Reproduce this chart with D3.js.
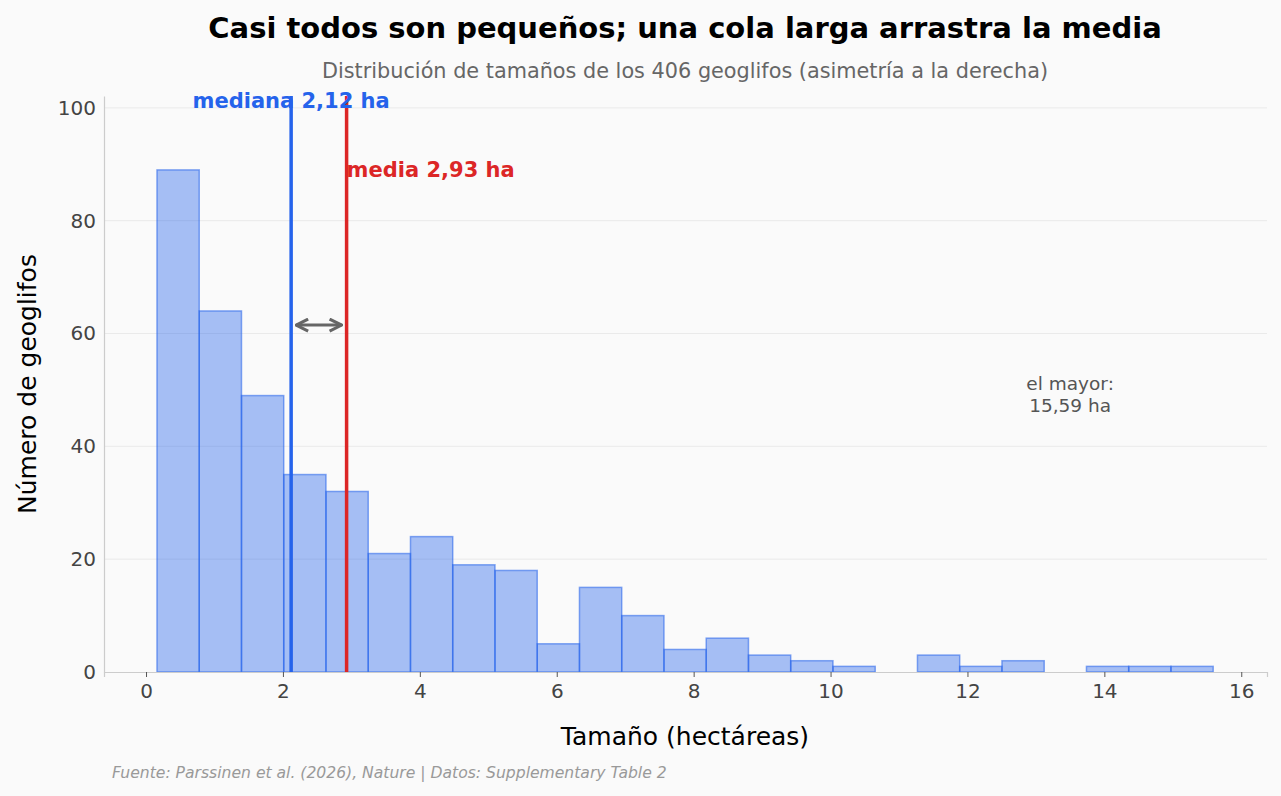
<!DOCTYPE html>
<html>
<head>
<meta charset="utf-8">
<script src="https://cdn.jsdelivr.net/npm/d3@7"></script>
<style>
  body { margin: 0; background: #fafafa; font-family: "DejaVu Sans", sans-serif; }
</style>
</head>
<body>
<div id="chart"></div>
<script>
// Histogram data: 25 bins from min to max size
const binStart = 0.16;
const binEnd = 15.59;
const binCounts = [89, 64, 49, 35, 32, 21, 24, 19, 18, 5, 15, 10, 4, 6, 3, 2, 1, 0, 3, 1, 2, 0, 1, 1, 1];
const xTicks = [0, 2, 4, 6, 8, 10, 12, 14, 16];
const yTicks = [0, 20, 40, 60, 80, 100];
const medianValue = 2.12;
const meanValue = 2.93;
const maxValue = 15.59;

const width = 1281, height = 796;
const margin = { top: 96, right: 14, bottom: 124, left: 104 };

const svg = d3.select("#chart")
    .append("svg")
    .attr("width", width)
    .attr("height", height)
    .style("background", "#fafafa");

const x = d3.scaleLinear()
    .domain([-0.614, 16.376])
    .range([margin.left, width - margin.right]);

const y = d3.scaleLinear()
    .domain([0, 102.1])
    .range([height - margin.bottom, margin.top]);

const binW = (binEnd - binStart) / binCounts.length;
const bins = binCounts.map((c, i) => ({ x0: binStart + i * binW, x1: binStart + (i + 1) * binW, n: c }));

// Grid
svg.append("g")
    .selectAll("line")
    .data(yTicks.slice(1))
    .enter()
    .append("line")
    .attr("x1", margin.left)
    .attr("x2", width - margin.right)
    .attr("y1", d => y(d))
    .attr("y2", d => y(d))
    .attr("stroke", "#e6e6e6")
    .attr("stroke-width", 0.8);

// Bars
svg.append("g")
    .selectAll("rect")
    .data(bins.filter(d => d.n > 0))
    .enter()
    .append("rect")
    .attr("x", d => x(d.x0))
    .attr("y", d => y(d.n))
    .attr("width", d => x(d.x1) - x(d.x0))
    .attr("height", d => y(0) - y(d.n))
    .attr("fill", "#2563eb")
    .attr("fill-opacity", 0.4)
    .attr("stroke", "#2563eb")
    .attr("stroke-opacity", 0.55)
    .attr("stroke-width", 1.5);

// Axes
const xAxis = svg.append("g")
    .attr("transform", `translate(0,${height - margin.bottom})`)
    .call(d3.axisBottom(x).tickValues(xTicks).tickSize(5).tickPadding(7).tickFormat(d3.format("d")));
xAxis.select(".domain").attr("stroke", "#cccccc").attr("stroke-width", 1.2);
xAxis.selectAll(".tick line").attr("stroke", "#555");
xAxis.selectAll("text").attr("fill", "#444").style("font-size", "20px").style("font-family", "DejaVu Sans");

const yAxis = svg.append("g")
    .attr("transform", `translate(${margin.left},0)`)
    .call(d3.axisLeft(y).tickValues(yTicks).tickSize(0).tickPadding(8));
yAxis.select(".domain").attr("stroke", "#cccccc").attr("stroke-width", 1.2);
yAxis.selectAll("text").attr("fill", "#444").style("font-size", "20px").style("font-family", "DejaVu Sans");

// Median and mean lines
svg.append("line")
    .attr("x1", x(medianValue)).attr("x2", x(medianValue))
    .attr("y1", y(0)).attr("y2", margin.top)
    .attr("stroke", "#2563eb").attr("stroke-width", 3.5);
svg.append("line")
    .attr("x1", x(meanValue)).attr("x2", x(meanValue))
    .attr("y1", y(0)).attr("y2", margin.top)
    .attr("stroke", "#dc2626").attr("stroke-width", 3.5);

svg.append("text")
    .attr("x", x(medianValue))
    .attr("y", y(101.3))
    .attr("dy", "0.35em")
    .attr("text-anchor", "middle")
    .attr("fill", "#2563eb")
    .style("font-size", "21px")
    .style("font-weight", "bold")
    .text("mediana 2,12 ha");

svg.append("text")
    .attr("x", x(meanValue))
    .attr("y", y(89))
    .attr("dy", "0.35em")
    .attr("text-anchor", "start")
    .attr("fill", "#dc2626")
    .style("font-size", "21px")
    .style("font-weight", "bold")
    .text("media 2,93 ha");

// Double arrow between median and mean
const defs = svg.append("defs");
defs.append("marker")
    .attr("id", "ah")
    .attr("viewBox", "0 0 10 10")
    .attr("refX", 9).attr("refY", 5)
    .attr("markerWidth", 5).attr("markerHeight", 5)
    .attr("orient", "auto-start-reverse")
    .append("path")
    .attr("d", "M1,1 L9,5 L1,9")
    .attr("fill", "none")
    .attr("stroke", "#666")
    .attr("stroke-width", 2);
svg.append("line")
    .attr("x1", x(medianValue) + 5).attr("x2", x(meanValue) - 5)
    .attr("y1", y(61.5)).attr("y2", y(61.5))
    .attr("stroke", "#666").attr("stroke-width", 3)
    .attr("marker-start", "url(#ah)")
    .attr("marker-end", "url(#ah)");

// Largest annotation
const ann = svg.append("text")
    .attr("x", x(13.5))
    .attr("y", y(49.9))
    .attr("text-anchor", "middle")
    .attr("fill", "#555")
    .style("font-size", "18.5px");
ann.append("tspan").attr("x", x(13.5)).text("el mayor:");
ann.append("tspan").attr("x", x(13.5)).attr("dy", "1.15em").text("15,59 ha");

// Titles
svg.append("text")
    .attr("x", 685).attr("y", 38)
    .attr("text-anchor", "middle")
    .attr("fill", "#000")
    .style("font-size", "29px")
    .style("font-weight", "bold")
    .text("Casi todos son pequeños; una cola larga arrastra la media");

svg.append("text")
    .attr("x", 685).attr("y", 78)
    .attr("text-anchor", "middle")
    .attr("fill", "#666")
    .style("font-size", "20.8px")
    .text("Distribución de tamaños de los 406 geoglifos (asimetría a la derecha)");

// Axis labels
svg.append("text")
    .attr("x", 685).attr("y", 745)
    .attr("text-anchor", "middle")
    .attr("fill", "#000")
    .style("font-size", "25px")
    .text("Tamaño (hectáreas)");

svg.append("text")
    .attr("transform", "rotate(-90)")
    .attr("x", -384).attr("y", 36)
    .attr("text-anchor", "middle")
    .attr("fill", "#000")
    .style("font-size", "25px")
    .text("Número de geoglifos");

// Footer
svg.append("text")
    .attr("x", 112).attr("y", 778)
    .attr("fill", "#999")
    .style("font-size", "15.6px")
    .style("font-style", "italic")
    .text("Fuente: Parssinen et al. (2026), Nature | Datos: Supplementary Table 2");
</script>
</body>
</html>
